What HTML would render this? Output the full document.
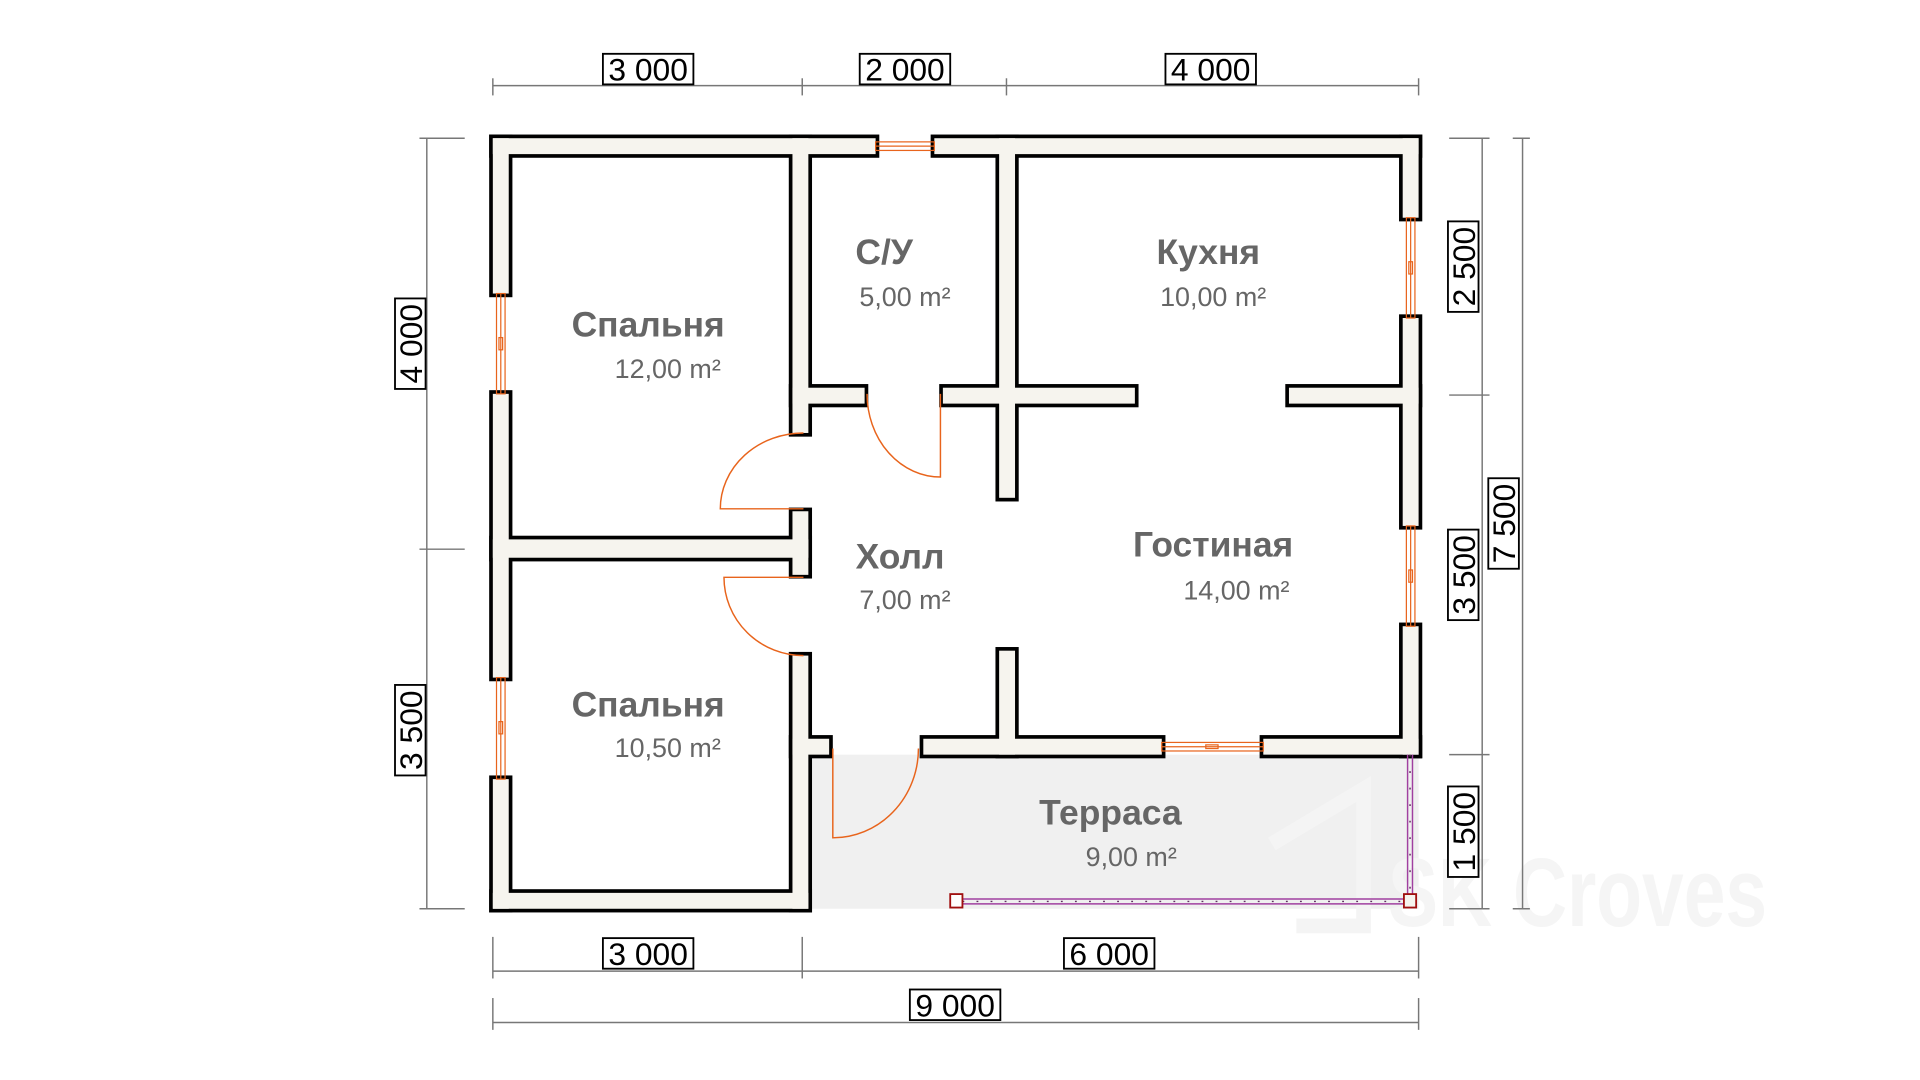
<!DOCTYPE html>
<html><head><meta charset="utf-8"><style>
html,body{margin:0;padding:0;background:#fff;}
svg{display:block;}
text{font-family:"Liberation Sans",sans-serif;}
.rn{font-weight:bold;font-size:29px;fill:#666;text-anchor:middle;}
.ra{font-size:22px;fill:#666;text-anchor:middle;}
.dm{font-size:26px;fill:#000;text-anchor:middle;font-family:"Liberation Sans Narrow","Liberation Sans",sans-serif;}
</style></head><body>
<svg width="1920" height="1080" viewBox="0 0 1570 883" preserveAspectRatio="none" xmlns="http://www.w3.org/2000/svg">
<rect x="0" y="0" width="1570" height="883" fill="#fff"/>
<rect x="661" y="617" width="499" height="126" fill="#f0f0f0"/>
<text x="1135" y="757" font-size="80" font-weight="bold" fill="#f5f5f5" textLength="310" lengthAdjust="spacingAndGlyphs" font-family="Liberation Sans Narrow, Liberation Sans, sans-serif">SK Croves</text>
<path d="M1040 690 L1115 645 L1115 757 L1060 757" fill="none" stroke="#f4f4f4" stroke-width="12"/>

<g id="walls">
<rect x="403" y="113" width="313" height="13"/>
<rect x="764" y="113" width="396" height="13"/>
<rect x="403" y="113" width="13" height="127"/>
<rect x="403" y="322" width="13" height="232"/>
<rect x="403" y="637" width="13" height="106"/>
<rect x="403" y="730" width="258" height="13"/>
<rect x="648" y="113" width="13" height="241"/>
<rect x="648" y="418" width="13" height="52"/>
<rect x="403" y="441" width="258" height="15"/>
<rect x="648" y="536" width="13" height="207"/>
<rect x="648" y="604" width="30" height="13"/>
<rect x="648" y="317" width="59" height="13"/>
<rect x="771" y="317" width="157" height="13"/>
<rect x="817" y="113" width="13" height="294"/>
<rect x="1054" y="317" width="106" height="13"/>
<rect x="1147" y="113" width="13" height="65"/>
<rect x="1147" y="260" width="13" height="170"/>
<rect x="1147" y="512" width="13" height="105"/>
<rect x="755" y="604" width="195" height="13"/>
<rect x="1033" y="604" width="127" height="13"/>
<rect x="817" y="532" width="13" height="85"/>
</g>
<use href="#walls" fill="#000" stroke="#000" stroke-width="6"/>
<use href="#walls" fill="#f6f4ee" stroke="none"/>

<g fill="none" stroke="#e8641c" stroke-width="1">
<rect x="716" y="116" width="48" height="7"/><line x1="716" y1="119.5" x2="764" y2="119.5"/>
<rect x="406" y="240" width="7" height="82"/><line x1="409.5" y1="240" x2="409.5" y2="322"/><rect x="408" y="276" width="3" height="10"/>
<rect x="406" y="554" width="7" height="83"/><line x1="409.5" y1="554" x2="409.5" y2="637"/><rect x="408" y="590" width="3" height="10"/>
<rect x="1150" y="178" width="7" height="82"/><line x1="1153.5" y1="178" x2="1153.5" y2="260"/><rect x="1152" y="214" width="3" height="10"/>
<rect x="1150" y="430" width="7" height="82"/><line x1="1153.5" y1="430" x2="1153.5" y2="512"/><rect x="1152" y="466" width="3" height="10"/>
<rect x="950" y="607" width="83" height="7"/><line x1="950" y1="610.5" x2="1033" y2="610.5"/><rect x="986" y="609" width="10" height="3"/>
</g>
<g fill="none" stroke="#e8641c" stroke-width="1.2">
<path d="M657 416 L589 416 A68 62 0 0 1 657 354"/>
<path d="M657 472 L592 472 A65 64 0 0 0 657 536"/>
<path d="M769 322 L769 390 A60 68 0 0 1 709 322"/>
<path d="M681 612 L681 685 A70 73 0 0 0 751 612"/>
</g>
<g stroke="#a040a0" stroke-width="1.2" fill="none">
<line x1="787" y1="735" x2="1150" y2="735"/><line x1="787" y1="739" x2="1150" y2="739"/>
<line x1="1151" y1="617" x2="1151" y2="732"/><line x1="1155" y1="617" x2="1155" y2="732"/>
</g>
<line x1="787" y1="737" x2="1150" y2="737" stroke="#603060" stroke-width="1.2" stroke-dasharray="1.5 10"/>
<line x1="1153" y1="617" x2="1153" y2="732" stroke="#603060" stroke-width="1.2" stroke-dasharray="1.5 12"/>
<rect x="777" y="731" width="10" height="11" fill="#fff" stroke="#a01010" stroke-width="1.5"/>
<rect x="1148" y="731" width="10" height="11" fill="#f6f4ee" stroke="#a01010" stroke-width="1.5"/>

<g stroke="#777" stroke-width="1.2" fill="none">
<line x1="403" y1="70" x2="1160" y2="70"/>
<line x1="403" y1="64" x2="403" y2="78"/><line x1="656" y1="64" x2="656" y2="78"/><line x1="823" y1="64" x2="823" y2="78"/><line x1="1160" y1="64" x2="1160" y2="78"/>
<line x1="403" y1="794" x2="1160" y2="794"/>
<line x1="403" y1="766" x2="403" y2="800"/><line x1="656" y1="766" x2="656" y2="800"/><line x1="1160" y1="766" x2="1160" y2="800"/>
<line x1="403" y1="836" x2="1160" y2="836"/>
<line x1="403" y1="816" x2="403" y2="842"/><line x1="1160" y1="816" x2="1160" y2="842"/>
<line x1="349" y1="113" x2="349" y2="743"/>
<line x1="343" y1="113" x2="380" y2="113"/><line x1="343" y1="449" x2="380" y2="449"/><line x1="343" y1="743" x2="380" y2="743"/>
<line x1="1212" y1="113" x2="1212" y2="743"/>
<line x1="1185" y1="113" x2="1218" y2="113"/><line x1="1185" y1="323" x2="1218" y2="323"/><line x1="1185" y1="617" x2="1218" y2="617"/><line x1="1185" y1="743" x2="1218" y2="743"/>
<line x1="1245" y1="113" x2="1245" y2="743"/>
<line x1="1237" y1="113" x2="1251" y2="113"/><line x1="1237" y1="743" x2="1251" y2="743"/>
</g>
<g fill="#fff" stroke="#000" stroke-width="1.5">
<rect x="493" y="44" width="74" height="25"/><rect x="703" y="44" width="74" height="25"/><rect x="953" y="44" width="74" height="25"/>
<rect x="493" y="767" width="74" height="25"/><rect x="870" y="767" width="74" height="25"/><rect x="744" y="809" width="74" height="25"/>
<rect x="323" y="244" width="25" height="74"/><rect x="323" y="560" width="25" height="74"/>
<rect x="1184" y="181" width="25" height="74"/><rect x="1184" y="433" width="25" height="74"/><rect x="1184" y="643" width="25" height="74"/>
<rect x="1217" y="391" width="25" height="74"/>
</g>
<text class="dm" x="530" y="66">3 000</text>
<text class="dm" x="740" y="66">2 000</text>
<text class="dm" x="990" y="66">4 000</text>
<text class="dm" x="530" y="789">3 000</text>
<text class="dm" x="907" y="789">6 000</text>
<text class="dm" x="781" y="831">9 000</text>
<text class="dm" transform="translate(345 281) rotate(-90)">4 000</text>
<text class="dm" transform="translate(345 597) rotate(-90)">3 500</text>
<text class="dm" transform="translate(1206 218) rotate(-90)">2 500</text>
<text class="dm" transform="translate(1206 470) rotate(-90)">3 500</text>
<text class="dm" transform="translate(1206 680) rotate(-90)">1 500</text>
<text class="dm" transform="translate(1239 428) rotate(-90)">7 500</text>

<text class="rn" x="530" y="275">Спальня</text><text class="ra" x="546" y="309">12,00 m²</text>
<text class="rn" x="723" y="216">С/У</text><text class="ra" x="740" y="250">5,00 m²</text>
<text class="rn" x="988" y="216">Кухня</text><text class="ra" x="992" y="250">10,00 m²</text>
<text class="rn" x="736" y="465">Холл</text><text class="ra" x="740" y="498">7,00 m²</text>
<text class="rn" x="992" y="455">Гостиная</text><text class="ra" x="1011" y="490">14,00 m²</text>
<text class="rn" x="530" y="586">Спальня</text><text class="ra" x="546" y="619">10,50 m²</text>
<text class="rn" x="908" y="674">Терраса</text><text class="ra" x="925" y="708">9,00 m²</text>
</svg>
</body></html>
